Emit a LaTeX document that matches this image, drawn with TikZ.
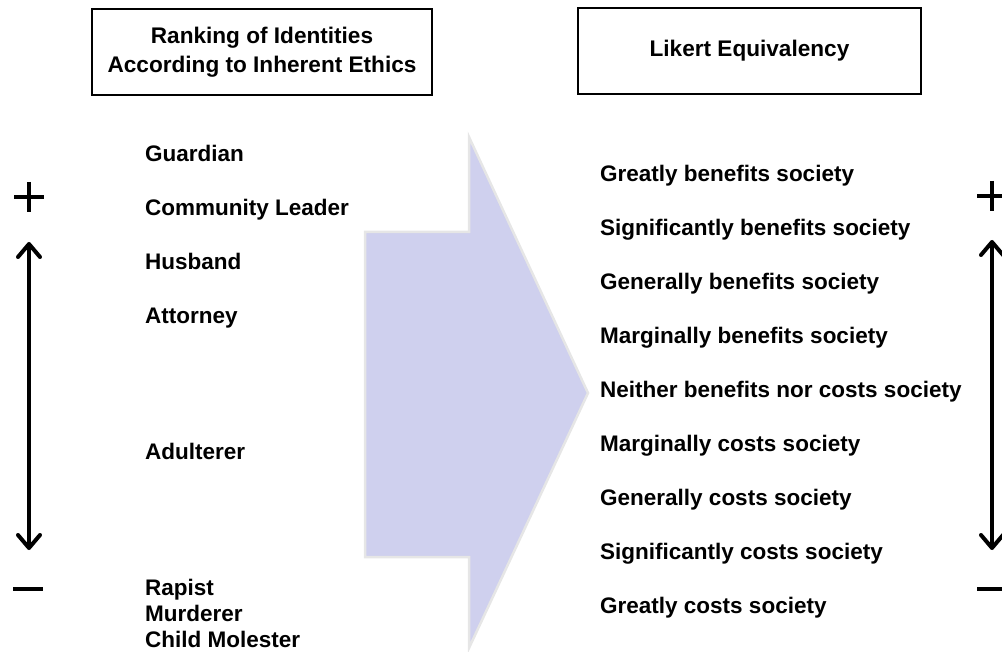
\documentclass[tikz,border=0pt]{standalone}
\usepackage{fontspec}
\setmainfont{Liberation Sans}
\usetikzlibrary{arrows.meta}
\definecolor{arrowfill}{HTML}{CFD0EE}
\definecolor{arrowedge}{HTML}{E6E6E6}

\begin{document}
\begin{tikzpicture}[x=1pt,y=-1pt,
  lbl/.style={anchor=base west,inner sep=0pt,font=\fontsize{22.5}{26}\selectfont\bfseries},
  hdr/.style={draw,line width=1.2pt,align=center,inner sep=0pt,minimum height=86pt,font=\fontsize{22.6}{29}\selectfont\bfseries},
  sign/.style={line width=4pt},
  scalebar/.style={line width=4pt,{Straight Barb[length=13pt,width=22pt,round]}-{Straight Barb[length=13pt,width=22pt,round]}}]

\useasboundingbox (0,0) rectangle (1002,652);

\node[hdr,minimum width=340pt] (rank) at (262,52) {Ranking of Identities\\According to Inherent Ethics};
\node[hdr,minimum width=343pt] (likert) at (749.5,51) {Likert Equivalency};

% big block arrow in the middle
\filldraw[fill=arrowfill,draw=arrowedge,line width=2.5pt] (365,232) -- (469,232) -- (469,137) -- (588,393) -- (469,648) -- (469,557) -- (365,557) -- cycle;

\node[lbl] (guard) at (145,162) {Guardian};
\node[lbl] (comm) at (145,216) {Community Leader};
\node[lbl] (husb) at (145,270) {Husband};
\node[lbl] (atty) at (145,324) {Attorney};
\node[lbl] (adult) at (145,460) {Adulterer};
\node[lbl] (rapist) at (145,595) {Rapist};
\node[lbl] (murd) at (145,621) {Murderer};
\node[lbl] (molest) at (145,647) {Child Molester};

\node[lbl] (gb) at (600,182) {Greatly benefits society};
\node[lbl] (sb) at (600,236) {Significantly benefits society};
\node[lbl] (genb) at (600,290) {Generally benefits society};
\node[lbl] (mb) at (600,344) {Marginally benefits society};
\node[lbl] (nb) at (600,398) {Neither benefits nor costs society};
\node[lbl] (mc) at (600,451) {Marginally costs society};
\node[lbl] (genc) at (600,505) {Generally costs society};
\node[lbl] (sc) at (600,559) {Significantly costs society};
\node[lbl] (gc) at (600,613) {Greatly costs society};

% plus / minus ends of the scales
\draw[sign] (14,197) -- (44,197) (29,182) -- (29,212);
\draw[sign] (13,589) -- (43,589);
\draw[sign] (977,196) -- (1007,196) (992,181) -- (992,211);
\draw[sign] (977,589) -- (1007,589);

\coordinate (topL) at (29,242);
\coordinate (botL) at (29,550);
\coordinate (topR) at (992,240);
\coordinate (botR) at (992,550);
\draw[scalebar] (topL) -- (botL);
\draw[scalebar] (topR) -- (botR);

\end{tikzpicture}
\end{document}
